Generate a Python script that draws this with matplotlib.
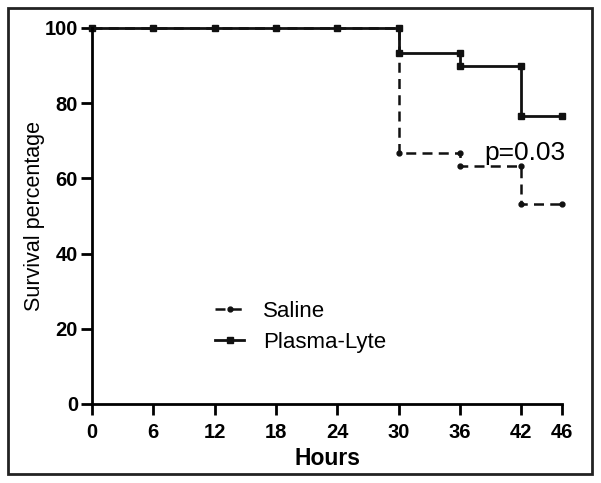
import numpy as np
import matplotlib.pyplot as plt
from matplotlib.patches import Rectangle

# Kaplan-Meier survival (%)
hours = [0, 6, 12, 18, 24, 30, 36, 42, 46]
saline = [100, 100, 100, 100, 100, 66.7, 63.3, 53.3, 53.3]
plasma_lyte = [100, 100, 100, 100, 100, 93.3, 90.0, 76.7, 76.7]
xticks = [0, 6, 12, 18, 24, 30, 36, 42, 46]
yticks = [0, 20, 40, 60, 80, 100]


def km_vertices(t, s):
    # step curve: add the point before each drop so a marker sits on both ends
    xs, ys = [t[0]], [s[0]]
    for i in range(1, len(t)):
        if s[i] != s[i - 1]:
            xs.append(t[i])
            ys.append(s[i - 1])
        xs.append(t[i])
        ys.append(s[i])
    return xs, ys


plt.rcParams['font.family'] = ['Liberation Sans', 'DejaVu Sans']

fig = plt.figure(figsize=(6.01, 4.83), dpi=100)
ax = fig.add_axes([0.1531, 0.1636, 0.782, 0.7785])

# outer frame around the whole figure
fig.patches.append(Rectangle((8 / 601, 1 - 474 / 483), 584 / 601, 466 / 483,
                             transform=fig.transFigure, fill=False,
                             edgecolor='#222222', linewidth=2))

x, y = km_vertices(hours, saline)
ax.plot(x, y, color='#111111', linestyle=(0, (4, 2.5)), linewidth=1.8,
        marker='o', markersize=3.5, label='Saline', clip_on=False)
x, y = km_vertices(hours, plasma_lyte)
ax.plot(x, y, color='#111111', linestyle='-', linewidth=2,
        marker='s', markersize=4, label='Plasma-Lyte', clip_on=False)

ax.set_xlim(0, 46)
ax.set_ylim(0, 100)
ax.set_xticks(xticks)
ax.set_yticks(yticks)
for side in ['top', 'right']:
    ax.spines[side].set_visible(False)
for side in ['left', 'bottom']:
    ax.spines[side].set_linewidth(2)
ax.tick_params(direction='out', length=8, width=2, labelsize=14.5)
ax.tick_params(axis='x', pad=6)
ax.tick_params(axis='y', pad=2)
for lab in ax.get_xticklabels() + ax.get_yticklabels():
    lab.set_fontweight('bold')

ax.set_xlabel('Hours', fontsize=16.5, fontweight='bold', labelpad=3)
ax.set_ylabel('Survival percentage', fontsize=15.5, labelpad=0)

ax.text(38.4, 65.0, 'p=0.03', fontsize=19)

ax.legend(loc='center left', bbox_to_anchor=(0.22, 0.205), frameon=False,
          fontsize=16, handlelength=1.3, handletextpad=0.85, labelspacing=0.45)

fig.savefig('out.png', dpi=100)
